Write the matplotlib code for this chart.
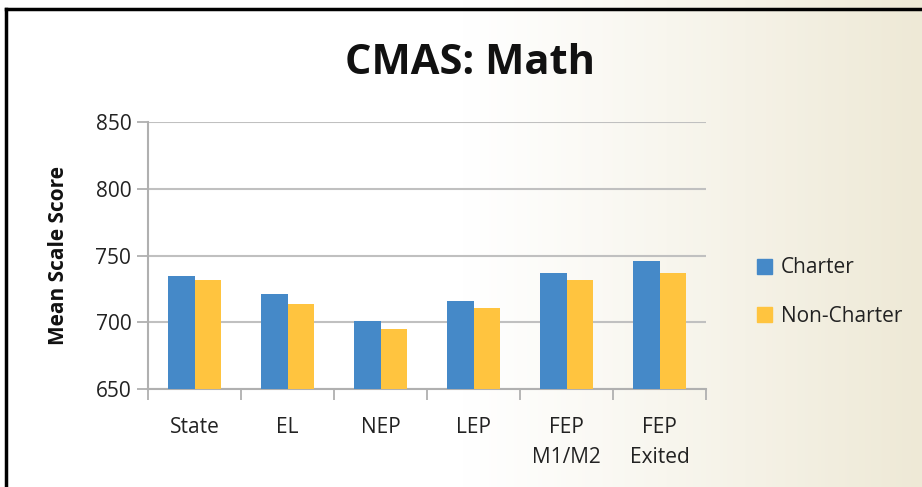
import numpy as np
import matplotlib
matplotlib.use("Agg")
import matplotlib.pyplot as plt
from matplotlib.colors import LinearSegmentedColormap
from matplotlib.lines import Line2D
from matplotlib.patches import Patch

categories = ["State", "EL", "NEP", "LEP", "FEP\nM1/M2", "FEP\nExited"]
charter = [735, 721, 701, 716, 737, 746]
non_charter = [732, 714, 695, 711, 732, 737]
yticks = [650, 700, 750, 800, 850]

plt.rcParams['font.family'] = ['Open Sans', 'DejaVu Sans']

fig = plt.figure(figsize=(9.22, 4.87), dpi=100)

# background gradient
bg = fig.add_axes([0, 0, 1, 1], zorder=-10)
grad = np.linspace(0, 1, 400)
grad = np.clip((grad - 0.5) / 0.5, 0, 1) ** 1.1
cmap = LinearSegmentedColormap.from_list("bg", ["#ffffff", "#eee9d6"])
bg.imshow(grad[None, :], aspect="auto", cmap=cmap, extent=[0, 1, 0, 1], vmin=0, vmax=1)
bg.set_xlim(0, 1); bg.set_ylim(0, 1)
bg.axis("off")
# frame lines
bg.add_line(Line2D([5.5/922, 5.5/922], [0, 1 - 9/487], color="black", lw=2.5))
bg.add_line(Line2D([5.5/922, 1], [1 - 9/487, 1 - 9/487], color="black", lw=2.5))

ax = fig.add_axes([148/922, 1 - 389/487, (706-148)/922, (389-122)/487])
ax.patch.set_alpha(0)

x = np.arange(len(categories))
w = 0.285
ax.bar(x - w/2, charter, width=w, color="#4589c8", label="Charter", zorder=3)
ax.bar(x + w/2, non_charter, width=w, color="#ffc43f", label="Non-Charter", zorder=3)

ax.set_ylim(650, 850)
ax.set_xlim(-0.5, len(categories) - 0.5)
ax.set_yticks(yticks)
ax.yaxis.grid(True, color="#c0c0c0", lw=1.5, zorder=0)
ax.set_axisbelow(True)

ax.set_xticks(np.arange(len(categories) + 1) - 0.5)
ax.set_xticklabels([])
ax.set_xticks(x, minor=True)
ax.set_xticklabels(categories, minor=True, fontsize=15, color="#222222", linespacing=1.55, va="top")
ax.tick_params(axis="x", which="major", length=8, width=1.3, color="#b0b0b0", direction="out")
ax.tick_params(axis="x", which="minor", length=0, pad=20)
ax.tick_params(axis="y", length=8, width=1.3, color="#b0b0b0", labelsize=15, labelcolor="#222222", pad=4)

for s in ["top", "right"]:
    ax.spines[s].set_visible(False)
for s in ["left", "bottom"]:
    ax.spines[s].set_color("#b0b0b0")
    ax.spines[s].set_linewidth(1.5)

ax.set_ylabel("Mean Scale Score", fontsize=15, fontweight="bold", color="#111111", labelpad=19)

fig.text(470/922, 1 - 64/487, "CMAS: Math", ha="center", va="center",
         fontsize=30, fontweight="bold", color="#111111")

handles = [Patch(color="#4589c8", label="Charter"), Patch(color="#ffc43f", label="Non-Charter")]
fig.legend(handles=handles, loc="center left", bbox_to_anchor=(738/922, 1 - 292/487),
           frameon=False, fontsize=15, handlelength=0.75, handleheight=0.75,
           handletextpad=0.4, labelspacing=1.3, labelcolor="#222222")

fig.savefig("out.png", dpi=100)
